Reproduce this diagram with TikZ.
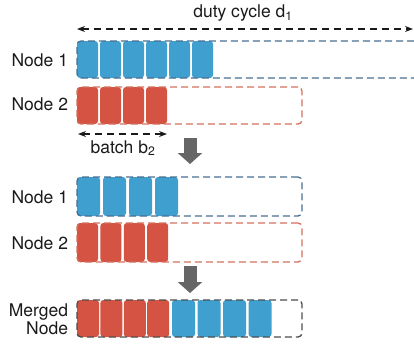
\documentclass[tikz,border=0pt]{standalone}
\usepackage{fontspec}
\setmainfont{TeX Gyre Heros}
\usetikzlibrary{arrows.meta}
\definecolor{cblue}{HTML}{3FA0CF}
\definecolor{cred}{HTML}{D55343}
\definecolor{bblue}{HTML}{4A6E90}
\definecolor{bred}{HTML}{D2705E}
\definecolor{bgray}{HTML}{4D4D4D}
\definecolor{garrow}{HTML}{666666}
\definecolor{txt}{HTML}{1A1A1A}
\begin{document}
\begin{tikzpicture}[x=1bp,y=-1bp,
  lbl/.style={font=\fontsize{17.5bp}{19bp}\selectfont, text=txt, inner sep=0, outer sep=0},
  blkb/.style={fill=cblue, rounded corners=3bp, inner sep=0, outer sep=0, anchor=north west, minimum height=37bp},
  blkr/.style={fill=cred, rounded corners=3bp, inner sep=0, outer sep=0, anchor=north west, minimum height=37bp},
  slot/.style={draw=#1, line width=1.3bp, dash pattern=on 7bp off 4bp, rounded corners=4bp, inner sep=0, outer sep=0, anchor=north west, minimum width=225bp, minimum height=37bp},
  dimarrow/.style={draw=txt, line width=1.1bp, dash pattern=on 7bp off 5bp, {Stealth[length=8bp,width=6bp]}-{Stealth[length=8bp,width=6bp]}},
  bigarrow/.style={draw=garrow, line width=13bp, -{Triangle[length=11bp,width=24bp]}}
]
\useasboundingbox (0,0) rectangle (414,345);

% duty cycle
\coordinate (dl) at (77,29);
\coordinate (dr) at (413,29);
\draw[dimarrow] (dl) -- (dr);
\node[lbl] (dtxt) at (243,13) {duty cycle d\textsubscript{1}};

% Row 1: Node 1 (open-ended box)
\foreach \i in {0,...,5} {
  \node[blkb, minimum width=21bp] (r1b\i) at ({77+23*\i},41) {};
}
\coordinate (r1tr) at (414,41);
\coordinate (r1br) at (414,78);
\coordinate (r1tl) at (77,41);
\coordinate (r1bl) at (77,78);
\draw[bblue, line width=1.3bp, dash pattern=on 7bp off 4bp, rounded corners=4bp] (r1tr) -- (r1tl) -- (r1bl) -- (r1br);
\node[lbl, anchor=east] (l1) at (68,60) {Node 1};

% Row 2: Node 2
\foreach \i in {0,...,3} {
  \node[blkr, minimum width=21bp] (r2b\i) at ({77+23*\i},87) {};
}
\node[slot=bred] (box2) at (77,87) {};
\node[lbl, anchor=east] (l2) at (68,104) {Node 2};

% batch
\coordinate (bl) at (78,134);
\coordinate (br) at (167,134);
\draw[dimarrow] (bl) -- (br);
\node[lbl] (btxt) at (123,148) {batch b\textsubscript{2}};

% arrow 1
\coordinate (a1s) at (190,138);
\coordinate (a1e) at (190,164);
\draw[bigarrow] (a1s) -- (a1e);

% Row 3: Node 1
\foreach \i in {0,...,3} {
  \node[blkb, minimum width=23bp, minimum height=39bp] (r3b\i) at ({77+26*\i},177) {};
}
\node[slot=bblue, minimum height=39bp] (box3) at (77,177) {};
\node[lbl, anchor=east] (l3) at (68,197) {Node 1};

% Row 4: Node 2
\foreach \i in {0,...,3} {
  \node[blkr, minimum width=21bp, minimum height=39bp] (r4b\i) at ({77+23.4*\i},223) {};
}
\node[slot=bred, minimum height=39bp] (box4) at (77,223) {};
\node[lbl, anchor=east] (l4) at (68,243) {Node 2};

% arrow 2
\coordinate (a2s) at (190,266);
\coordinate (a2e) at (190,293);
\draw[bigarrow] (a2s) -- (a2e);

% Merged
\foreach \i in {0,...,3} {
  \node[blkr, minimum width=22bp] (m1b\i) at ({77+23.4*\i},300) {};
  \node[blkb, minimum width=23bp] (m2b\i) at ({172+25.5*\i},300) {};
}
\node[slot=bgray] (box5) at (77,300) {};
\node[lbl, anchor=east, align=right] (l5) at (68,319) {Merged\\[-0.5bp]Node};

\end{tikzpicture}
\end{document}
